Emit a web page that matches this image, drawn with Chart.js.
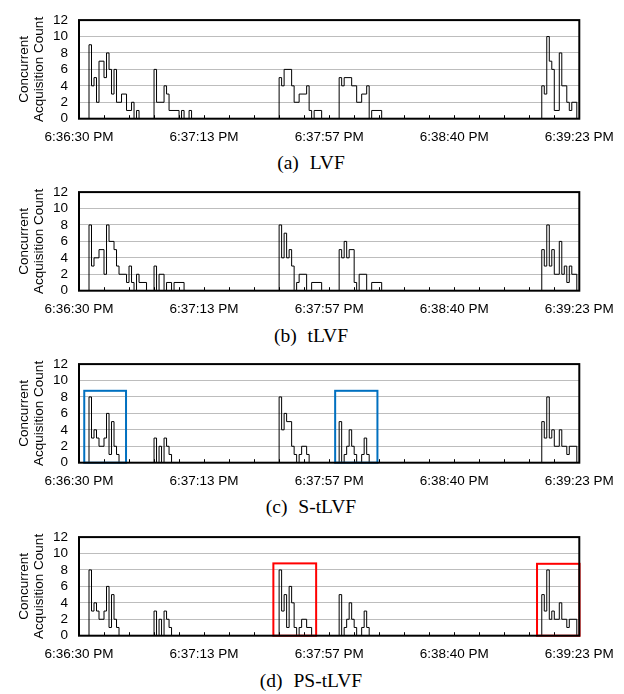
<!DOCTYPE html>
<html><head><meta charset="utf-8">
<script src="https://cdn.jsdelivr.net/npm/chart.js@4.4.1/dist/chart.umd.min.js"></script>
<style>
html,body{margin:0;padding:0;background:#fff;}
body{width:624px;height:694px;position:relative;overflow:hidden;}
.panel{position:absolute;left:0;width:624px;height:172px;}
.panel canvas{position:absolute;left:0;top:0;}
.cap{position:absolute;left:0;width:622px;top:152.5px;text-align:center;font-family:"Liberation Serif","Times New Roman",serif;font-size:19.5px;line-height:19px;word-spacing:6px;color:#000;white-space:nowrap;}
</style></head><body>
<script>
// ---- data (sample index 0..200, ~0.865 s per sample) ----
const timeLabels = ['6:36:30 PM','6:37:13 PM','6:37:57 PM','6:38:40 PM','6:39:23 PM'];
const labelPositions = [0,50,100,150,200];
const tickMarks = [10,20,30,40,50,60,70,80,90,100,110,120,130,140,150,160,170,180,190];
const yTicks = [0,2,4,6,8,10,12];
const captions = ['(a) LVF','(b) tLVF','(c) S-tLVF','(d) PS-tLVF'];
const yTitle = ['Concurrent','Acquisition Count'];

// change points: index where the count changes, and the new count
const lvfIdx = [0,4,5,6,7,8,10,11,12,13,14,15,17,19,21,22,23,24,30,31,34,35,36,40,41,42,44,45,80,81,82,85,86,88,91,92,93,94,97,104,105,106,109,111,113,115,116,117,121,185,186,187,188,189,190,192,193,195,196,197,199,200];
const lvfVal = [0,9,4,5,2,7,5,8,6,3,6,2,3,1,2,0,1,0,6,2,4,3,1,0,1,0,1,0,5,4,6,4,2,3,4,1,0,1,0,5,4,5,4,2,3,4,0,1,0,4,3,10,7,6,1,8,4,2,1,2,0,0];

const tlvfIdx = [0,4,5,6,8,10,11,12,14,15,16,19,20,21,22,23,24,27,30,31,32,34,35,37,38,42,80,81,82,83,84,85,86,87,88,91,93,97,104,105,106,107,108,110,111,112,115,117,121,185,186,187,188,189,190,192,193,194,195,196,197,199,200];
const tlvfVal = [0,8,3,4,5,2,8,6,5,3,2,1,3,1,0,2,1,0,3,0,2,0,1,0,1,0,8,4,7,4,5,3,0,1,2,0,1,0,5,4,6,4,5,1,0,2,0,1,0,5,3,8,3,5,2,6,2,3,1,3,2,0,0];

const stlvfIdx = [0,4,5,6,7,8,10,11,12,13,14,15,16,30,31,32,33,34,35,36,37,80,81,82,83,85,86,87,88,89,91,92,104,105,106,107,108,109,110,111,113,114,115,116,185,186,187,188,189,190,192,193,195,196,199,200];
const stlvfVal = [0,8,3,4,3,2,3,6,1,5,2,1,0,3,0,2,0,3,2,1,0,8,4,6,5,2,1,0,1,2,1,0,5,0,1,2,4,2,1,0,1,3,1,0,5,3,8,3,4,2,4,2,1,2,0,0];

const pstlvfIdx = [0,4,5,6,7,8,10,11,12,13,14,15,16,30,31,32,33,34,35,36,37,80,81,82,83,84,85,86,87,88,89,91,93,104,105,106,107,108,109,110,111,113,114,115,116,185,186,187,188,189,190,192,193,195,196,199,200];
const pstlvfVal = [0,8,3,4,3,2,3,6,1,5,2,1,0,3,0,2,0,3,2,1,0,8,3,5,1,6,4,1,0,1,2,1,0,5,0,1,2,4,2,1,0,1,3,1,0,5,3,8,2,3,2,4,2,1,2,0,0];

// highlight boxes: [startIndex, endIndex, topValue]
const sBoxes = [[2.1,18.8,8.75],[102.4,119.3,8.75]];
const psBoxes = [[77.7,94.8,8.8],[183.1,200.1,8.75]];

const series = [
  {idx: lvfIdx, val: lvfVal, boxes: [], boxColor: null},
  {idx: tlvfIdx, val: tlvfVal, boxes: [], boxColor: null},
  {idx: stlvfIdx, val: stlvfVal, boxes: sBoxes, boxColor: '#0070C0'},
  {idx: pstlvfIdx, val: pstlvfVal, boxes: psBoxes, boxColor: '#FF0000'}
];
const plotTops = [12.7, 185, 356.7, 530];

const sansFont = {family: '"Liberation Sans", Arial, sans-serif', size: 13.5};

const framePlugin = {
  id: 'frame',
  afterDatasetsDraw(chart, args, opts) {
    const {ctx, chartArea: a, scales: {x, y}} = chart;
    ctx.save();
    // tick marks along the bottom
    ctx.strokeStyle = '#000'; ctx.lineWidth = 1;
    ctx.beginPath();
    tickMarks.forEach(v => {
      const px = Math.round(x.getPixelForValue(v)) + 0.5;
      ctx.moveTo(px, a.bottom); ctx.lineTo(px, a.bottom - 3.5);
    });
    ctx.stroke();
    // highlight boxes
    if (opts.boxes && opts.boxes.length) {
      ctx.strokeStyle = opts.color; ctx.lineWidth = 2;
      opts.boxes.forEach(b => {
        const x0 = x.getPixelForValue(b[0]), x1 = x.getPixelForValue(b[1]);
        const y0 = y.getPixelForValue(0), y1 = y.getPixelForValue(b[2]);
        ctx.strokeRect(x0, y1, x1 - x0, y0 - y1);
      });
    }
    // plot frame
    ctx.strokeStyle = '#000'; ctx.lineWidth = 2;
    ctx.strokeRect(a.left, a.top, a.right - a.left, a.bottom - a.top);
    ctx.restore();
  }
};

series.forEach((s, k) => {
  const panel = document.createElement('div');
  panel.className = 'panel';
  panel.style.top = (plotTops[k] - 12) + 'px';
  const cv = document.createElement('canvas');
  cv.width = 624; cv.height = 150;
  cv.style.width = '624px'; cv.style.height = '150px';
  panel.appendChild(cv);
  const cap = document.createElement('div');
  cap.className = 'cap';
  cap.textContent = captions[k];
  panel.appendChild(cap);
  document.body.appendChild(panel);

  const pts = s.idx.map((xv, i) => ({x: xv, y: s.val[i]}));
  new Chart(cv, {
    type: 'line',
    data: {datasets: [{data: pts, stepped: 'before', borderColor: '#000', borderWidth: 1, pointRadius: 0, fill: false}]},
    options: {
      animation: false, responsive: false, devicePixelRatio: 1,
      layout: {padding: {top: 12, right: 44.7, left: 0, bottom: 0}},
      plugins: {legend: {display: false}, tooltip: {enabled: false},
        frame: {boxes: s.boxes, color: s.boxColor}},
      scales: {
        x: {
          type: 'linear', min: 0, max: 200,
          afterBuildTicks: sc => { sc.ticks = labelPositions.map(v => ({value: v})); },
          ticks: {callback: (v, i) => timeLabels[i], maxRotation: 0, autoSkip: false, padding: 10, font: sansFont, color: '#000'},
          grid: {display: false, drawTicks: false},
          border: {display: false},
          afterFit: sc => { sc.height = 32.3; }
        },
        y: {
          min: 0, max: 12,
          afterBuildTicks: sc => { sc.ticks = yTicks.map(v => ({value: v})); },
          ticks: {padding: 11, font: sansFont, color: '#000', autoSkip: false},
          grid: {drawTicks: false, lineWidth: 1,
            color: c => (c.tick && (c.tick.value === 0 || c.tick.value === 12)) ? 'rgba(0,0,0,0)' : '#bdbdbd'},
          border: {display: false},
          title: {display: true, text: yTitle, color: '#000',
            font: {family: '"Liberation Sans", Arial, sans-serif', size: 13.5, lineHeight: 1.1},
            padding: {top: 16.6, bottom: 0}},
          afterFit: sc => { sc.width = 79; }
        }
      }
    },
    plugins: [framePlugin]
  });
});
</script>
</body></html>
